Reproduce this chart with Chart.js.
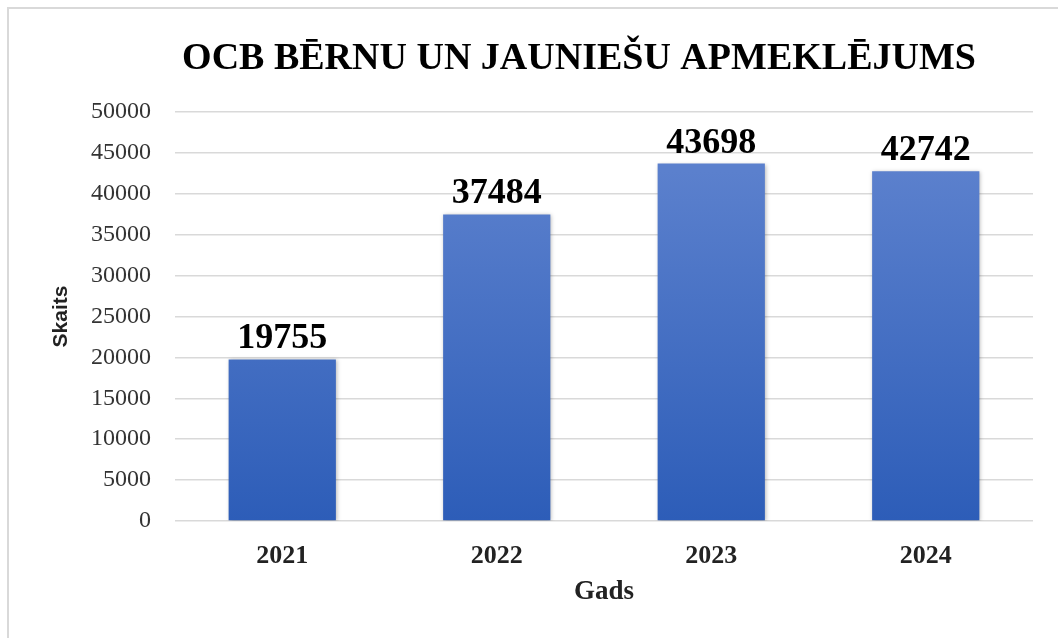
<!DOCTYPE html>
<html>
<head>
<meta charset="utf-8">
<script src="https://cdn.jsdelivr.net/npm/chart.js@4"></script>
<style>
  html, body { margin: 0; padding: 0; background: #fff; overflow: hidden; }
  #frame { position: absolute; left: 7px; top: 7px; width: 1100px; height: 700px;
           border-left: 2px solid #d9d9d9; border-top: 2px solid #d9d9d9; }
  #wrap { position: absolute; left: 0; top: 0; width: 1058px; height: 638px; }
</style>
</head>
<body>
<div id="frame"></div>
<div id="wrap"><canvas id="chart"></canvas></div>
<script>
// data
const years = ['2021', '2022', '2023', '2024'];
const visits = [19755, 37484, 43698, 42742];
const titleText = 'OCB BĒRNU UN JAUNIEŠU APMEKLĒJUMS';
const yTitle = 'Skaits';
const xTitle = 'Gads';

const SERIF = '"Liberation Serif", "Times New Roman", serif';

// per bar vertical gradient + soft shadow, like the office chart
const barLook = {
  id: 'barLook',
  beforeDatasetsDraw(chart) {
    const ctx = chart.ctx;
    chart.getDatasetMeta(0).data.forEach(bar => {
      const g = ctx.createLinearGradient(0, bar.y, 0, bar.base);
      g.addColorStop(0, '#5b80cd');
      g.addColorStop(1, '#2d5db8');
      bar.options.backgroundColor = g;
    });
    ctx.save();
    ctx.shadowColor = 'rgba(0,0,0,0.28)';
    ctx.shadowBlur = 4;
    ctx.shadowOffsetX = 1;
    ctx.shadowOffsetY = 1;
  },
  afterDatasetsDraw(chart) {
    const ctx = chart.ctx;
    ctx.restore();
    // value labels above bars
    ctx.save();
    ctx.font = 'bold 36px ' + SERIF;
    ctx.fillStyle = '#000';
    ctx.textAlign = 'center';
    ctx.textBaseline = 'alphabetic';
    chart.getDatasetMeta(0).data.forEach((bar, i) => {
      ctx.fillText(String(visits[i]), bar.x, bar.y - 11);
    });
    ctx.restore();
  },
  afterDraw(chart) {
    // title sits a bit right of the canvas centre in the original
    const ctx = chart.ctx;
    ctx.save();
    ctx.font = 'bold 38px ' + SERIF;
    ctx.fillStyle = '#000';
    ctx.textAlign = 'center';
    ctx.textBaseline = 'alphabetic';
    ctx.fillText(titleText, 579, 69);
    ctx.restore();
  }
};

const chart = new Chart(document.getElementById('chart'), {
  type: 'bar',
  data: {
    labels: years,
    datasets: [{
      label: yTitle,
      data: visits,
      backgroundColor: '#3f6cc3',
      borderWidth: 0,
      barPercentage: 0.5,
      categoryPercentage: 1.0
    }]
  },
  options: {
    responsive: true,
    maintainAspectRatio: false,
    animation: false,
    layout: { padding: { left: 8, right: 25, top: 112, bottom: 0 } },
    plugins: {
      legend: { display: false },
      tooltip: { enabled: false },
      title: { display: false }
    },
    scales: {
      x: {
        grid: { display: false, drawTicks: false },
        border: { display: false },
        ticks: {
          color: '#222',
          padding: 20,
          font: { family: SERIF, size: 26, weight: 'bold' }
        },
        title: {
          display: true,
          text: xTitle,
          color: '#222',
          font: { family: SERIF, size: 27, weight: 'bold' },
          padding: { top: 30, bottom: 30 }
        },
        afterFit(scale) { scale.height = 117; }
      },
      y: {
        min: 0,
        max: 50000,
        ticks: {
          stepSize: 5000,
          color: '#333',
          padding: 24,
          font: { family: SERIF, size: 24 },
          callback: v => String(v)
        },
        grid: { color: '#d9d9d9', lineWidth: 1.5, drawTicks: false },
        border: { display: false },
        title: {
          display: true,
          text: yTitle,
          color: '#222',
          font: { family: '"Liberation Sans", Arial, sans-serif', size: 21, weight: 'bold' },
          padding: { top: 41, bottom: 41 }
        },
        afterFit(scale) { scale.width = 167; }
      }
    }
  },
  plugins: [barLook]
});
</script>
</body>
</html>
